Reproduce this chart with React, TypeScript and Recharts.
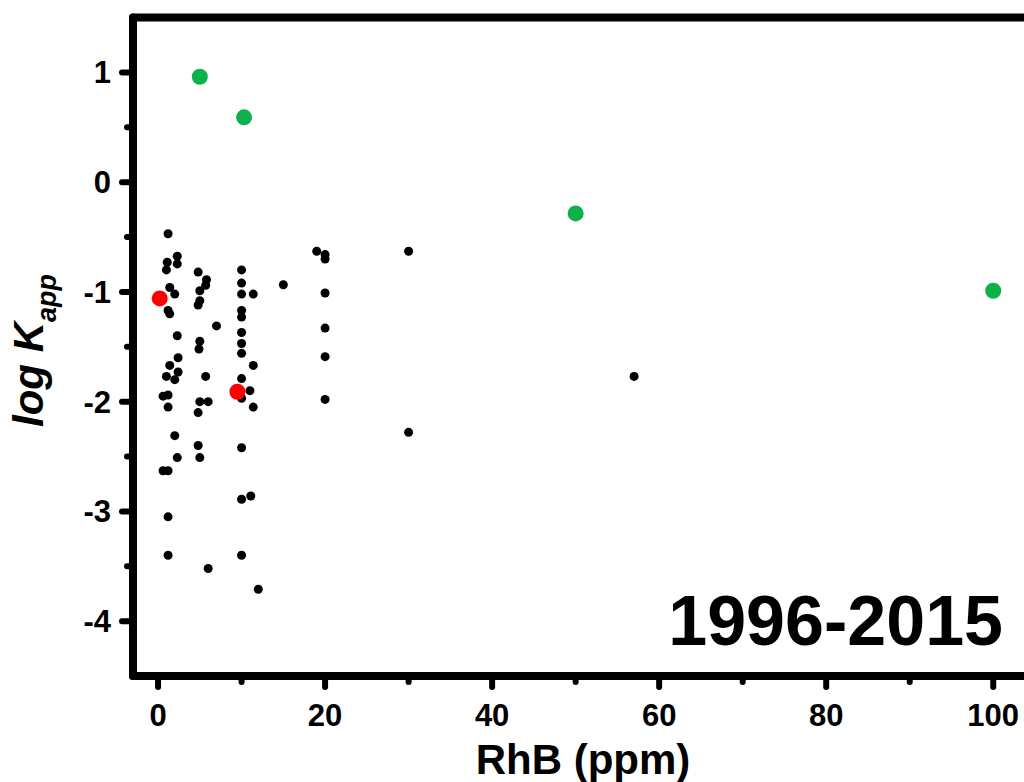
import React from 'react';
import {
  ScatterChart,
  Scatter,
  XAxis,
  YAxis,
  Label,
  ReferenceLine,
} from 'recharts';

// literature values (black)
const blackData = [
  { x: 0.6, y: -1.95 }, { x: 0.6, y: -2.63 },
  { x: 1.0, y: -0.8 }, { x: 1.0, y: -1.77 },
  { x: 1.1, y: -0.73 },
  { x: 1.2, y: -0.47 }, { x: 1.2, y: -1.17 }, { x: 1.2, y: -1.94 }, { x: 1.2, y: -2.05 },
  { x: 1.2, y: -2.63 }, { x: 1.2, y: -3.05 }, { x: 1.2, y: -3.4 },
  { x: 1.4, y: -0.96 }, { x: 1.4, y: -1.2 }, { x: 1.4, y: -1.67 },
  { x: 2.0, y: -1.02 }, { x: 2.0, y: -1.8 }, { x: 2.0, y: -2.31 },
  { x: 2.3, y: -0.675 }, { x: 2.3, y: -0.745 }, { x: 2.3, y: -1.4 }, { x: 2.3, y: -2.51 },
  { x: 2.4, y: -1.6 }, { x: 2.4, y: -1.73 },
  { x: 4.8, y: -0.82 }, { x: 4.8, y: -1.12 }, { x: 4.8, y: -2.1 }, { x: 4.8, y: -2.4 },
  { x: 4.9, y: -1.52 },
  { x: 5.0, y: -0.99 }, { x: 5.0, y: -1.08 }, { x: 5.0, y: -1.45 }, { x: 5.0, y: -2.0 }, { x: 5.0, y: -2.51 },
  { x: 5.7, y: -0.94 }, { x: 5.7, y: -1.77 },
  { x: 5.8, y: -0.89 },
  { x: 6.0, y: -2.0 }, { x: 6.0, y: -3.52 },
  { x: 7.0, y: -1.31 },
  { x: 10, y: -0.8 }, { x: 10, y: -0.92 }, { x: 10, y: -1.02 }, { x: 10, y: -1.17 },
  { x: 10, y: -1.23 }, { x: 10, y: -1.37 }, { x: 10, y: -1.47 }, { x: 10, y: -1.56 },
  { x: 10, y: -1.79 }, { x: 10, y: -1.97 }, { x: 10, y: -2.42 }, { x: 10, y: -2.89 }, { x: 10, y: -3.4 },
  { x: 11, y: -1.9 },
  { x: 11.1, y: -2.86 },
  { x: 11.4, y: -1.02 }, { x: 11.4, y: -1.67 }, { x: 11.4, y: -2.05 },
  { x: 12, y: -3.71 },
  { x: 15, y: -0.935 },
  { x: 19, y: -0.63 },
  { x: 20, y: -0.66 }, { x: 20, y: -0.7 }, { x: 20, y: -1.01 }, { x: 20, y: -1.33 },
  { x: 20, y: -1.59 }, { x: 20, y: -1.98 },
  { x: 30, y: -0.63 }, { x: 30, y: -2.28 },
  { x: 57, y: -1.77 },
];

const greenData = [
  { x: 5, y: 0.96 },
  { x: 10.3, y: 0.59 },
  { x: 50, y: -0.285 },
  { x: 100, y: -0.99 },
];

const redData = [
  { x: 0.2, y: -1.06 },
  { x: 9.5, y: -1.91 },
];

const xTicks = [0, 10, 20, 30, 40, 50, 60, 70, 80, 90, 100];
const yTicks = [-4, -3.5, -3, -2.5, -2, -1.5, -1, -0.5, 0, 0.5, 1];

const FONT = '"Liberation Sans", Arial, sans-serif';

const dot = (r: number, fill: string) => (props: any) => (
  <circle cx={props.cx} cy={props.cy} r={r} fill={fill} />
);

const YTick = (props: any) => {
  const { x, y, payload } = props;
  const major = Number.isInteger(payload.value);
  return (
    <g>
      <line x1={x} y1={y} x2={x - (major ? 11 : 6)} y2={y} stroke="#000" strokeWidth={6} strokeLinecap="round" />
      {major && (
        <text x={x - 22} y={y + 11} textAnchor="end" fontSize={31} fontWeight="bold" fontFamily={FONT} fill="#000">
          {payload.value}
        </text>
      )}
    </g>
  );
};

const XTick = (props: any) => {
  const { x, y, payload } = props;
  const major = payload.value % 20 === 0;
  return (
    <g>
      <line x1={x} y1={y} x2={x} y2={y + (major ? 11 : 6)} stroke="#000" strokeWidth={6} strokeLinecap="round" />
      {major && (
        <text x={x} y={y + 50} textAnchor="middle" fontSize={31} fontWeight="bold" fontFamily={FONT} fill="#000">
          {payload.value}
        </text>
      )}
    </g>
  );
};

const YTitle = () => (
  <text
    transform="translate(43, 427) rotate(-90)"
    textAnchor="start"
    fontSize={42}
    fontWeight="bold"
    fontStyle="italic"
    fontFamily={FONT}
    fill="#000"
  >
    log K
    <tspan fontSize={27} dy={13}>app</tspan>
  </text>
);

const XTitle = () => (
  <text x={583} y={774} textAnchor="middle" fontSize={42} fontWeight="bold" fontFamily={FONT} fill="#000">
    RhB (ppm)
  </text>
);

const YearTag = () => (
  <text x={1003} y={645} textAnchor="end" fontSize={70} fontWeight="bold" fontFamily={FONT} fill="#000">
    1996-2015
  </text>
);

export default function App() {
  const axisLine = { stroke: '#000', strokeWidth: 8, strokeLinecap: 'round' as const };
  return (
    <div style={{ position: 'fixed', left: 0, top: 0, width: 1024, height: 782, overflow: 'hidden', background: '#fff' }}>
      <ScatterChart width={1045} height={782} margin={{ top: 17.5, right: 10, bottom: 0, left: 0 }}>
        <XAxis
          type="number"
          dataKey="x"
          domain={[-3, 105]}
          ticks={xTicks}
          interval={0}
          tickSize={0}
          tickMargin={0}
          tickLine={false}
          axisLine={axisLine}
          tick={<XTick />}
          height={106}
        >
          <Label content={<XTitle />} />
          <Label content={<YearTag />} />
        </XAxis>
        <YAxis
          type="number"
          dataKey="y"
          domain={[-4.5, 1.5]}
          ticks={yTicks}
          interval={0}
          tickSize={0}
          tickMargin={0}
          tickLine={false}
          axisLine={axisLine}
          tick={<YTick />}
          width={133}
        >
          <Label content={<YTitle />} />
        </YAxis>
        <ReferenceLine y={1.5} stroke="#000" strokeWidth={8} strokeLinecap="round" ifOverflow="visible" />
        <ReferenceLine x={105} stroke="#000" strokeWidth={8} ifOverflow="visible" />
        <Scatter data={blackData} fill="#000" shape={dot(4.5, '#000')} isAnimationActive={false} />
        <Scatter data={greenData} fill="#0db14b" shape={dot(8, '#0db14b')} isAnimationActive={false} />
        <Scatter data={redData} fill="#ff0000" shape={dot(8, '#ff0000')} isAnimationActive={false} />
      </ScatterChart>
    </div>
  );
}
